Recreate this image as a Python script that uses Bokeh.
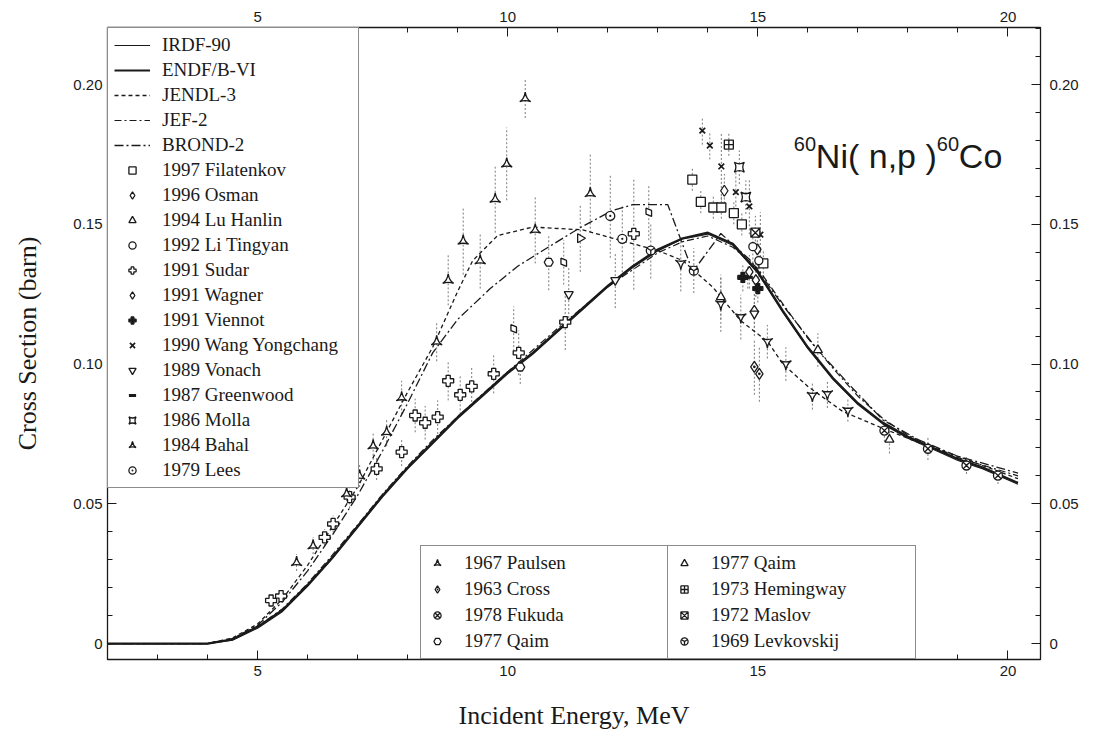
from bokeh.plotting import figure
from bokeh.models import (Range1d, LinearAxis, FixedTicker, Legend, LegendItem, Label,
                          ColumnDataSource, NumeralTickFormatter)
from bokeh.embed import file_html
from bokeh.resources import INLINE

# ---------------- evaluated curves ----------------
endf_e = [2.0, 4.0, 4.5, 5.0, 5.5, 6.0, 6.5, 7.0, 7.5, 8.0, 8.5, 9.0, 9.5, 10.0, 10.5, 11.0, 11.5,
          12.0, 12.5, 13.0, 13.5, 14.0, 14.5, 15.0, 15.5, 16.0, 16.5, 17.0, 17.5, 18.0, 18.5, 19.0,
          19.5, 20.2]
endf_xs = [0, 0, 0.0015, 0.006, 0.012, 0.021, 0.031, 0.042, 0.053, 0.063, 0.072, 0.081, 0.089,
           0.097, 0.104, 0.112, 0.120, 0.128, 0.135, 0.141, 0.145, 0.147, 0.143, 0.133, 0.119,
           0.106, 0.095, 0.086, 0.079, 0.074, 0.070, 0.066, 0.063, 0.0575]
irdf_e = endf_e
irdf_xs = [0, 0, 0.0012, 0.0055, 0.0115, 0.0205, 0.0305, 0.0415, 0.0525, 0.0625, 0.0715, 0.0805,
           0.0885, 0.0965, 0.1035, 0.1115, 0.1195, 0.1275, 0.1345, 0.1405, 0.1448, 0.1465, 0.1425,
           0.1325, 0.1185, 0.1055, 0.0945, 0.0855, 0.0785, 0.0735, 0.0695, 0.0655, 0.0625, 0.057]
jendl_e = [2.0, 4.0, 4.5, 5.0, 5.5, 6.0, 6.5, 7.0, 7.5, 8.0, 8.5, 9.0, 9.3, 9.8, 10.5, 11.5, 12.1,
           13.0, 13.5, 14.1, 14.65, 15.2, 15.5, 16.0, 16.7, 17.5, 18.2, 19.0, 20.2]
jendl_xs = [0, 0, 0.002, 0.007, 0.016, 0.028, 0.042, 0.056, 0.073, 0.090, 0.106, 0.126, 0.137,
            0.146, 0.149, 0.148, 0.145, 0.1406, 0.137, 0.1275, 0.1156, 0.108, 0.100, 0.092, 0.083,
            0.077, 0.072, 0.067, 0.059]
jef_e = [2.0, 4.0, 4.5, 5.0, 5.5, 6.0, 6.5, 7.0, 7.5, 8.0, 8.5, 9.0, 9.5, 10.0, 11.0, 12.0, 13.0,
         13.5, 14.0, 14.5, 15.0, 15.5, 16.0, 16.5, 17.0, 17.5, 18.0, 19.0, 20.2]
jef_xs = [0, 0, 0.0016, 0.0062, 0.0125, 0.0215, 0.0318, 0.0425, 0.0535, 0.0635, 0.0728, 0.0812,
          0.0893, 0.0972, 0.1128, 0.1277, 0.1398, 0.1438, 0.1458, 0.1418, 0.1342, 0.1215, 0.1092,
          0.0985, 0.0885, 0.0805, 0.0745, 0.0665, 0.0600]
brond_e = [2.0, 4.0, 4.5, 5.0, 5.5, 6.0, 6.5, 7.0, 7.5, 8.0, 8.5, 9.0, 9.65, 10.2, 10.8, 11.45,
           12.1, 12.5, 13.2, 13.7, 14.26, 14.86, 15.5, 16.2, 16.86, 17.5, 18.2, 19.0, 20.2]
brond_xs = [0, 0, 0.0018, 0.0065, 0.015, 0.026, 0.039, 0.053, 0.069, 0.086, 0.104, 0.116, 0.127,
            0.135, 0.1417, 0.1488, 0.155, 0.157, 0.157, 0.133, 0.1467, 0.137, 0.121, 0.105, 0.092,
            0.080, 0.073, 0.067, 0.061]

# ---------------- measurements ----------------
filatenkov_e = [13.69, 13.86, 14.11, 14.27, 14.52, 14.68, 15.11]
filatenkov_xs = [0.166, 0.158, 0.156, 0.156, 0.154, 0.150, 0.136]
filatenkov_err = [0.004, 0.004, 0.004, 0.004, 0.004, 0.004, 0.005]
osman_e = [14.33, 14.83, 14.96, 14.99, 14.93]
osman_xs = [0.162, 0.133, 0.130, 0.141, 0.119]
osman_err = [0.006, 0.006, 0.006, 0.006, 0.006]
luhanlin_e = [16.20, 17.63, 14.26]
luhanlin_xs = [0.105, 0.073, 0.124]
luhanlin_err = [0.006, 0.005, 0.008]
litingyan_e = [14.90, 15.02]
litingyan_xs = [0.142, 0.137]
litingyan_err = [0.006, 0.006]
sudar_e = [5.27, 5.47, 6.34, 6.51, 6.84, 7.38, 7.88, 8.15, 8.35, 8.60, 8.81, 9.05, 9.28, 9.72,
           10.22, 11.15, 12.52]
sudar_xs = [0.0154, 0.0170, 0.0380, 0.0428, 0.0524, 0.0625, 0.0685, 0.0816, 0.0790, 0.0810,
            0.0940, 0.0890, 0.0920, 0.0965, 0.1040, 0.1150, 0.1466]
sudar_err = [0.002, 0.002, 0.003, 0.003, 0.004, 0.004, 0.005, 0.006, 0.006, 0.006, 0.007, 0.007,
             0.007, 0.007, 0.008, 0.010, 0.020]
wagner_e = [10.12, 11.12, 12.82]
wagner_xs = [0.1126, 0.1364, 0.1543]
wagner_err = [0.008, 0.008, 0.010]
viennot_e = [14.70, 15.00]
viennot_xs = [0.131, 0.127]
viennot_err = [0.005, 0.005]
wang_e = [13.89, 14.04, 14.27, 14.56, 14.83, 15.05]
wang_xs = [0.1835, 0.1782, 0.1707, 0.1615, 0.1564, 0.1463]
wang_err = [0.005, 0.005, 0.012, 0.008, 0.010, 0.008]
vonach_e = [11.22, 12.15, 14.93]
vonach_xs = [0.125, 0.130, 0.118]
vonach_err = [0.010, 0.010, 0.008]
greenwood_e = [14.80]
greenwood_xs = [0.131]
greenwood_err = [0.004]
molla_e = [14.63, 14.76]
molla_xs = [0.1704, 0.1597]
molla_err = [0.006, 0.006]
bahal_e = [5.78, 6.11, 6.78, 7.04, 7.31, 7.58, 7.88, 8.58, 8.81, 9.11, 9.45, 9.75, 9.98, 10.35,
           10.55, 11.65]
bahal_xs = [0.029, 0.035, 0.0536, 0.060, 0.0708, 0.0756, 0.088, 0.108, 0.130, 0.144, 0.137, 0.159,
            0.1716, 0.195, 0.148, 0.161]
bahal_err = [0.003, 0.003, 0.004, 0.004, 0.005, 0.005, 0.006, 0.007, 0.009, 0.012, 0.010, 0.012,
             0.013, 0.007, 0.012, 0.014]
lees_e = [12.05, 12.29]
lees_xs = [0.153, 0.1448]
lees_err = [0.015, 0.012]
paulsen_e = [13.46, 14.26, 14.66, 15.19, 15.56, 16.09, 16.39, 16.80]
paulsen_xs = [0.136, 0.1215, 0.1168, 0.108, 0.100, 0.0887, 0.0893, 0.0834]
paulsen_err = [0.010, 0.010, 0.008, 0.006, 0.006, 0.005, 0.005, 0.004]
cross_e = [14.93, 15.03]
cross_xs = [0.099, 0.0965]
cross_err = [0.010, 0.010]
fukuda_e = [17.53, 18.40, 19.17, 19.80]
fukuda_xs = [0.0762, 0.0697, 0.0637, 0.0601]
fukuda_err = [0.004, 0.004, 0.003, 0.003]
qaima_e = [10.25, 10.82]
qaima_xs = [0.0989, 0.1364]
qaima_err = [0.006, 0.010]
qaimb_e = [11.45]
qaimb_xs = [0.145]
qaimb_err = [0.012]
hemingway_e = [14.42]
hemingway_xs = [0.1785]
hemingway_err = [0.004]
maslov_e = [14.95]
maslov_xs = [0.147]
maslov_err = [0.006]
levkovskij_e = [12.86, 13.72]
levkovskij_xs = [0.1406, 0.1334]
levkovskij_err = [0.010, 0.008]

x_major = [5, 10, 15, 20]
x_minor = [2, 3, 4, 6, 7, 8, 9, 11, 12, 13, 14, 16, 17, 18, 19]
y_major = [0, 0.05, 0.10, 0.15, 0.20]
y_minor = [0.01, 0.02, 0.03, 0.04, 0.06, 0.07, 0.08, 0.09, 0.11, 0.12, 0.13, 0.14,
           0.16, 0.17, 0.18, 0.19, 0.21, 0.22]

INK = "#1a1a1a"
SERIF = "Liberation Serif"
SANS = "Liberation Sans"

p = figure(width=1098, height=733, x_range=Range1d(2.0, 20.65), y_range=Range1d(-0.0057, 0.2204),
           output_backend="svg", toolbar_location=None, x_axis_location=None,
           y_axis_location=None, min_border_left=107, min_border_right=58, min_border_top=27,
           min_border_bottom=74, background_fill_color="white", border_fill_color="white")
p.grid.visible = False
p.outline_line_color = INK
p.outline_line_width = 1.3


def make_axis(place, ticks, minor, is_y):
    ax = LinearAxis()
    ax.ticker = FixedTicker(ticks=ticks, minor_ticks=minor)
    if is_y:
        ax.formatter = NumeralTickFormatter(format="0.00")
        ax.major_label_overrides = {0: "0"}
    ax.major_tick_in = 9
    ax.major_tick_out = 0
    ax.minor_tick_in = 5
    ax.minor_tick_out = 0
    ax.axis_line_color = INK
    ax.major_tick_line_color = INK
    ax.minor_tick_line_color = INK
    ax.major_label_text_font = SANS
    ax.major_label_text_font_size = "15px"
    ax.major_label_text_color = INK
    ax.major_label_standoff = 6
    p.add_layout(ax, place)
    return ax


xb = make_axis("below", x_major, x_minor, False)
xb.axis_label = "Incident Energy, MeV"
xb.axis_label_text_font = SERIF
xb.axis_label_text_font_size = "26px"
xb.axis_label_text_font_style = "normal"
xb.axis_label_text_color = INK
xb.axis_label_standoff = 22
make_axis("above", x_major, x_minor, False)
yl = make_axis("left", y_major, y_minor, True)
yl.major_label_standoff = 5
yl.axis_label = "Cross Section (barn)"
yl.axis_label_text_font = SERIF
yl.axis_label_text_font_size = "26px"
yl.axis_label_text_font_style = "normal"
yl.axis_label_text_color = INK
yl.axis_label_standoff = 28
yr = make_axis("right", y_major, y_minor, True)
yr.major_label_standoff = 9

# ---------------- error bars ----------------
meas = [
    (filatenkov_e, filatenkov_xs, filatenkov_err),
    (osman_e, osman_xs, osman_err),
    (luhanlin_e, luhanlin_xs, luhanlin_err),
    (litingyan_e, litingyan_xs, litingyan_err),
    (sudar_e, sudar_xs, sudar_err),
    (wagner_e, wagner_xs, wagner_err),
    (viennot_e, viennot_xs, viennot_err),
    (wang_e, wang_xs, wang_err),
    (vonach_e, vonach_xs, vonach_err),
    (greenwood_e, greenwood_xs, greenwood_err),
    (molla_e, molla_xs, molla_err),
    (bahal_e, bahal_xs, bahal_err),
    (lees_e, lees_xs, lees_err),
    (paulsen_e, paulsen_xs, paulsen_err),
    (cross_e, cross_xs, cross_err),
    (fukuda_e, fukuda_xs, fukuda_err),
    (qaima_e, qaima_xs, qaima_err),
    (qaimb_e, qaimb_xs, qaimb_err),
    (hemingway_e, hemingway_xs, hemingway_err),
    (maslov_e, maslov_xs, maslov_err),
    (levkovskij_e, levkovskij_xs, levkovskij_err),
]
for e, xs, er in meas:
    src = ColumnDataSource(dict(x=e, lo=[a - b for a, b in zip(xs, er)],
                                hi=[a + b for a, b in zip(xs, er)]))
    p.segment(x0="x", y0="lo", x1="x", y1="hi", source=src, line_color="#7a7a7a",
              line_width=1, line_dash="2 2")

# ---------------- curves ----------------
r_irdf = p.line(irdf_e, irdf_xs, line_color=INK, line_width=1.2)
r_endf = p.line(endf_e, endf_xs, line_color=INK, line_width=2.2)
r_jendl = p.line(jendl_e, jendl_xs, line_color=INK, line_width=1.3, line_dash="4 3")
r_jef = p.line(jef_e, jef_xs, line_color=INK, line_width=1.2, line_dash="7 3 2 3")
r_brond = p.line(brond_e, brond_xs, line_color=INK, line_width=1.3, line_dash="9 3 2 3")


def pts(e, xs, marker, size=8, fill="white", angle=0.0, lw=1.3):
    return p.scatter(e, xs, marker=marker, size=size, line_color=INK, fill_color=fill,
                     line_width=lw, angle=angle)


r_fil = pts(filatenkov_e, filatenkov_xs, "square", 9)
r_osm = pts(osman_e, osman_xs, "diamond", 11)
r_lu = pts(luhanlin_e, luhanlin_xs, "triangle", 9)
r_li = pts(litingyan_e, litingyan_xs, "circle", 8)
r_sud = pts(sudar_e, sudar_xs, "plus", 11)
r_wag = pts(wagner_e, wagner_xs, "diamond", 10, angle=0.6)
r_vie = pts(viennot_e, viennot_xs, "plus", 10, fill=INK)
r_wang = pts(wang_e, wang_xs, "x", 8, lw=1.7)
r_von = pts(vonach_e, vonach_xs, "inverted_triangle", 9)
r_gre = pts(greenwood_e, greenwood_xs, "dash", 10, lw=3)
r_mol = pts(molla_e, molla_xs, "square_pin", 10)
r_bah = pts(bahal_e, bahal_xs, "triangle_pin", 11)
r_lee = pts(lees_e, lees_xs, "circle_dot", 9)
r_pau = pts(paulsen_e, paulsen_xs, "triangle_pin", 11, angle=3.14159)
r_cro = pts(cross_e, cross_xs, "diamond_dot", 11)
r_fuk = pts(fukuda_e, fukuda_xs, "circle_x", 9)
r_qa = pts(qaima_e, qaima_xs, "hex", 9)
r_qb = pts(qaimb_e, qaimb_xs, "triangle", 9, angle=-1.5708)
r_hem = pts(hemingway_e, hemingway_xs, "square_cross", 9)
r_mas = pts(maslov_e, maslov_xs, "square_x", 9)
r_lev = pts(levkovskij_e, levkovskij_xs, "circle_y", 9)

# ---------------- legends ----------------
common = dict(margin=0, border_line_color=INK, border_line_width=1.2,
              background_fill_color="white", background_fill_alpha=1.0,
              label_text_font=SERIF, label_text_font_size="19px", label_text_color=INK,
              glyph_height=18, label_height=18)

leg1 = Legend(items=[
    LegendItem(label="IRDF-90", renderers=[r_irdf]),
    LegendItem(label="ENDF/B-VI", renderers=[r_endf]),
    LegendItem(label="JENDL-3", renderers=[r_jendl]),
    LegendItem(label="JEF-2", renderers=[r_jef]),
    LegendItem(label="BROND-2", renderers=[r_brond]),
    LegendItem(label="1997 Filatenkov", renderers=[r_fil]),
    LegendItem(label="1996 Osman", renderers=[r_osm]),
    LegendItem(label="1994 Lu Hanlin", renderers=[r_lu]),
    LegendItem(label="1992 Li Tingyan", renderers=[r_li]),
    LegendItem(label="1991 Sudar", renderers=[r_sud]),
    LegendItem(label="1991 Wagner", renderers=[r_wag]),
    LegendItem(label="1991 Viennot", renderers=[r_vie]),
    LegendItem(label="1990 Wang Yongchang", renderers=[r_wang]),
    LegendItem(label="1989 Vonach", renderers=[r_von]),
    LegendItem(label="1987 Greenwood", renderers=[r_gre]),
    LegendItem(label="1986 Molla", renderers=[r_mol]),
    LegendItem(label="1984 Bahal", renderers=[r_bah]),
    LegendItem(label="1979 Lees", renderers=[r_lee]),
], location="top_left", padding=6, spacing=3, glyph_width=36, label_standoff=12,
    label_width=190, **common)
p.add_layout(leg1)

leg2 = Legend(items=[
    LegendItem(label="1967 Paulsen", renderers=[r_pau]),
    LegendItem(label="1963 Cross", renderers=[r_cro]),
    LegendItem(label="1978 Fukuda", renderers=[r_fuk]),
    LegendItem(label="1977 Qaim", renderers=[r_qa]),
], location=(313, 0), padding=6, spacing=4, glyph_width=20, label_standoff=17,
    label_width=198, **common)
p.add_layout(leg2)

leg3 = Legend(items=[
    LegendItem(label="1977 Qaim", renderers=[r_qb]),
    LegendItem(label="1973 Hemingway", renderers=[r_hem]),
    LegendItem(label="1972 Maslov", renderers=[r_mas]),
    LegendItem(label="1969 Levkovskij", renderers=[r_lev]),
], location=(560, 0), padding=6, spacing=4, glyph_width=20, label_standoff=17,
    label_width=198, **common)
p.add_layout(leg3)

# reaction label: 60Ni( n,p )60Co with raised mass numbers
title_parts = [("60", 20, 0, 12), ("Ni( n,p )", 34, 22, 0), ("60", 20, 143, 12), ("Co", 34, 165, 0)]
for txt, fs, dx, dy in title_parts:
    p.add_layout(Label(x=15.72, y=0.1746, x_offset=dx, y_offset=dy, text=txt,
                       text_font=SANS, text_font_size=f"{fs}px", text_color=INK,
                       text_baseline="alphabetic"))

open("out.html", "w").write(file_html(p, INLINE))
